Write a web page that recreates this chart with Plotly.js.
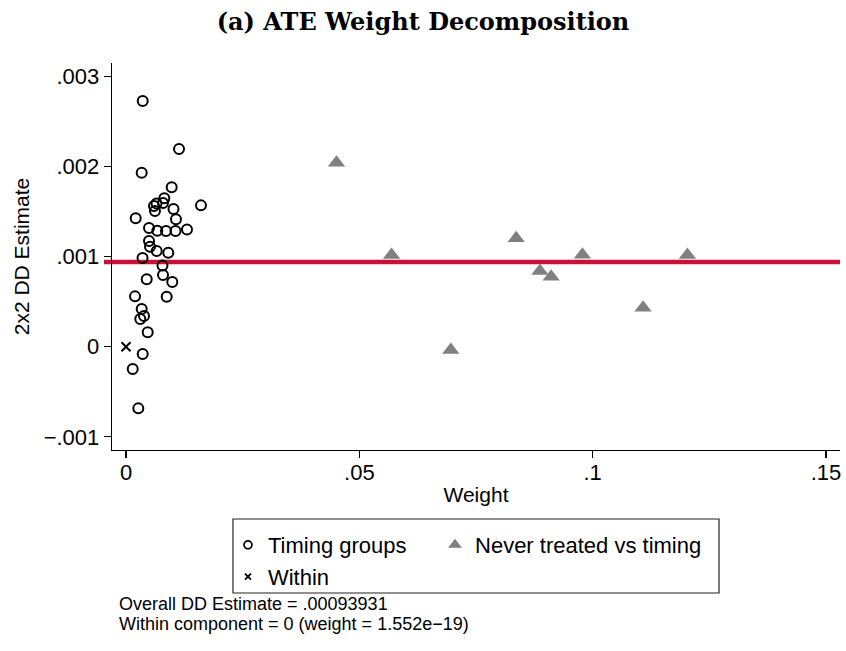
<!DOCTYPE html>
<html>
<head>
<meta charset="utf-8">
<script src="https://cdn.plot.ly/plotly-3.0.1.min.js"></script>
<style>
  html, body { margin: 0; padding: 0; background: #ffffff; }
  #chart { width: 846px; height: 651px; }
</style>
</head>
<body>
<div id="chart"></div>
<script>
// 2x2 DD comparisons: weight and estimate for each comparison type
const timingWeight = [
  0.00358, 0.01136, 0.00336, 0.00979, 0.00821, 0.00793, 0.00654, 0.00600, 0.00621,
  0.01607, 0.01018, 0.00208, 0.01071, 0.00493, 0.00671, 0.00857, 0.01061, 0.01307,
  0.00493, 0.00514, 0.00658, 0.00906, 0.00354, 0.00782, 0.00793, 0.00444, 0.00992,
  0.00193, 0.00872, 0.00336, 0.00386, 0.00306, 0.00465, 0.00358, 0.00144, 0.00264
];
const timingEstimate = [
  0.002727, 0.002194, 0.001931, 0.001769, 0.001647, 0.001595, 0.001589, 0.001562, 0.001507,
  0.001569, 0.001528, 0.001425, 0.001414, 0.001317, 0.001287, 0.001284, 0.001284, 0.001301,
  0.001173, 0.001110, 0.001062, 0.001043, 0.000984, 0.000901, 0.000796, 0.000748, 0.000718,
  0.000559, 0.000555, 0.000418, 0.000341, 0.000308, 0.000160, -0.000081, -0.000248, -0.000684
];
const neverWeight = [0.0451, 0.0569, 0.0696, 0.0836, 0.0887, 0.0911, 0.0978, 0.1108, 0.1203];
const neverEstimate = [0.002042, 0.001018, -0.000037, 0.001203, 0.000840, 0.000777, 0.001021, 0.000433, 0.001018];
const withinWeight = [0];
const withinEstimate = [0];

const overallEstimate = 0.00093931;
const withinComponentWeight = 1.552e-19;

const xTickVals = [0, 0.05, 0.1, 0.15];
const xTickText = ['0', '.05', '.1', '.15'];
const yTickVals = [-0.001, 0, 0.001, 0.002, 0.003];
const yTickText = ['\u2212.001', '0', '.001', '.002', '.003'];

const SANS = 'Liberation Sans, Arial, Helvetica, sans-serif';

// Stata-style number formatting: drop the leading zero, use a true minus sign
function stataNum(v) {
  return String(v).replace(/^0\./, '.').replace('-', '\u2212');
}
function stataExp(v) {
  return v.toExponential(3).replace('-', '\u2212');
}

const traces = [
  {
    type: 'scatter', mode: 'markers', name: 'Timing groups', showlegend: false,
    x: timingWeight, y: timingEstimate,
    marker: { symbol: 'circle-open', size: 10, color: '#000000', line: { width: 2, color: '#000000' } },
    hoverinfo: 'x+y'
  },
  {
    type: 'scatter', mode: 'markers', name: 'Never treated vs timing', showlegend: false,
    x: neverWeight, y: neverEstimate,
    marker: { symbol: 'triangle-up', size: 15, color: '#808080', line: { width: 0 } },
    hoverinfo: 'x+y'
  },
  {
    type: 'scatter', mode: 'markers', name: 'Within', showlegend: false,
    x: withinWeight, y: withinEstimate,
    marker: { symbol: 'x-thin-open', size: 9, color: '#000000', line: { width: 2, color: '#000000' } },
    hoverinfo: 'x+y'
  },
  // legend keys (smaller symbols than the plotted markers)
  {
    type: 'scatter', mode: 'markers', name: 'Timing groups', legend: 'legend',
    x: [null], y: [null],
    marker: { symbol: 'circle-open', size: 8, color: '#000000', line: { width: 1.7, color: '#000000' } }
  },
  {
    type: 'scatter', mode: 'markers', name: 'Never treated vs timing', legend: 'legend3',
    x: [null], y: [null],
    marker: { symbol: 'triangle-up', size: 12, color: '#808080', line: { width: 0 } }
  },
  {
    type: 'scatter', mode: 'markers', name: 'Within', legend: 'legend2',
    x: [null], y: [null],
    marker: { symbol: 'x-thin-open', size: 6, color: '#000000', line: { width: 1.8, color: '#000000' } }
  }
];

const axisCommon = {
  showline: true, linecolor: '#000000', linewidth: 1.3,
  ticks: 'outside', ticklen: 7, tickwidth: 1.3, tickcolor: '#000000',
  showgrid: false, zeroline: false,
  tickfont: { family: SANS, size: 22, color: '#000000' },
  tickmode: 'array'
};

const legendCommon = {
  orientation: 'h', xanchor: 'left', yanchor: 'middle',
  bgcolor: 'rgba(0,0,0,0)', borderwidth: 0,
  font: { family: SANS, size: 22, color: '#000000' },
  itemwidth: 30, itemclick: false, itemdoubleclick: false
};

const layout = {
  width: 846, height: 651,
  paper_bgcolor: '#ffffff', plot_bgcolor: '#ffffff',
  margin: { l: 112, r: 6, t: 63, b: 201 },
  title: {
    text: '<b>(a) ATE Weight Decomposition</b>',
    font: { family: 'DejaVu Serif, serif', size: 24, color: '#000000' },
    x: 0.5, xref: 'container', xanchor: 'center',
    y: 1 - 22 / 651, yref: 'container', yanchor: 'middle'
  },
  xaxis: Object.assign({}, axisCommon, {
    range: [-0.0030, 0.1530],
    tickvals: xTickVals, ticktext: xTickText,
    ticklabelstandoff: -5,
    title: { text: 'Weight', font: { family: SANS, size: 21, color: '#000000' }, standoff: 3 }
  }),
  yaxis: Object.assign({}, axisCommon, {
    range: [-0.001146, 0.003149],
    tickvals: yTickVals, ticktext: yTickText,
    title: { text: '2x2 DD Estimate', font: { family: SANS, size: 21, color: '#000000' }, standoff: 8 }
  }),
  showlegend: true,
  legend: Object.assign({}, legendCommon, { x: 0.1593, y: -0.2455 }),
  legend3: Object.assign({}, legendCommon, { x: 0.4437, y: -0.2455 }),
  legend2: Object.assign({}, legendCommon, { x: 0.1593, y: -0.328 }),
  shapes: [
    // overall DD estimate
    {
      type: 'line', layer: 'below',
      xref: 'paper', x0: -0.011, x1: 1,
      yref: 'y', y0: overallEstimate, y1: overallEstimate,
      line: { color: '#C8103A', width: 4.5 }
    },
    // legend frame
    {
      type: 'rect', layer: 'above',
      xref: 'paper', x0: 0.1662, x1: 0.8338,
      yref: 'paper', y0: -0.1783, y1: -0.3695,
      line: { color: '#222222', width: 1.2 }, fillcolor: 'rgba(0,0,0,0)'
    }
  ],
  annotations: [
    {
      xref: 'paper', yref: 'paper', x: 0.0069, y: -0.398,
      xanchor: 'left', yanchor: 'middle', showarrow: false,
      text: 'Overall DD Estimate = ' + stataNum(overallEstimate),
      font: { family: SANS, size: 18, color: '#000000' }
    },
    {
      xref: 'paper', yref: 'paper', x: 0.0069, y: -0.4497,
      xanchor: 'left', yanchor: 'middle', showarrow: false,
      text: 'Within component = ' + stataNum(withinEstimate[0]) + ' (weight = ' + stataExp(withinComponentWeight) + ')',
      font: { family: SANS, size: 18, color: '#000000' }
    }
  ]
};

Plotly.newPlot('chart', traces, layout, { displayModeBar: false, staticPlot: true });
</script>
</body>
</html>
